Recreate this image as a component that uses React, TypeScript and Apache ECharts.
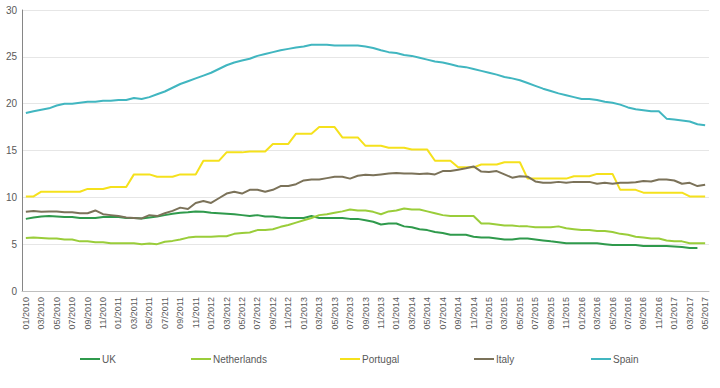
import React, { useEffect, useRef } from "react";
import * as echarts from "echarts";

const categories: string[] = [
  "01/2010","02/2010","03/2010","04/2010","05/2010","06/2010","07/2010","08/2010","09/2010","10/2010","11/2010","12/2010",
  "01/2011","02/2011","03/2011","04/2011","05/2011","06/2011","07/2011","08/2011","09/2011","10/2011","11/2011","12/2011",
  "01/2012","02/2012","03/2012","04/2012","05/2012","06/2012","07/2012","08/2012","09/2012","10/2012","11/2012","12/2012",
  "01/2013","02/2013","03/2013","04/2013","05/2013","06/2013","07/2013","08/2013","09/2013","10/2013","11/2013","12/2013",
  "01/2014","02/2014","03/2014","04/2014","05/2014","06/2014","07/2014","08/2014","09/2014","10/2014","11/2014","12/2014",
  "01/2015","02/2015","03/2015","04/2015","05/2015","06/2015","07/2015","08/2015","09/2015","10/2015","11/2015","12/2015",
  "01/2016","02/2016","03/2016","04/2016","05/2016","06/2016","07/2016","08/2016","09/2016","10/2016","11/2016","12/2016",
  "01/2017","02/2017","03/2017","04/2017","05/2017",
];

const ukValues: (number | null)[] = [
  7.7, 7.85, 7.95, 8.0, 7.95, 7.9, 7.9, 7.8, 7.8, 7.8, 7.9, 7.9,
  7.9, 7.8, 7.8, 7.75, 7.85, 7.95, 8.1, 8.25, 8.35, 8.4, 8.5, 8.45,
  8.35, 8.3, 8.25, 8.2, 8.1, 8.0, 8.1, 7.95, 7.95, 7.85, 7.8, 7.8,
  7.8, 8.0, 7.8, 7.8, 7.8, 7.8, 7.7, 7.7, 7.55, 7.4, 7.1, 7.2,
  7.2, 6.9, 6.8, 6.6, 6.5, 6.3, 6.2, 6.0, 6.0, 6.0, 5.8, 5.7,
  5.7, 5.6, 5.5, 5.5, 5.6, 5.6, 5.5, 5.4, 5.3, 5.2, 5.1, 5.1,
  5.1, 5.1, 5.1, 5.0, 4.9, 4.9, 4.9, 4.9, 4.8, 4.8, 4.8, 4.8,
  4.75, 4.7, 4.6, 4.6, null,
];

const netherlandsValues: number[] = [
  5.65, 5.7, 5.65, 5.6, 5.6, 5.5, 5.5, 5.3, 5.3, 5.2, 5.2, 5.1,
  5.1, 5.1, 5.1, 5.0, 5.07, 5.0, 5.25, 5.35, 5.5, 5.7, 5.8, 5.8,
  5.8, 5.85, 5.85, 6.1, 6.2, 6.25, 6.5, 6.5, 6.6, 6.85, 7.05, 7.3,
  7.55, 7.8, 8.1, 8.2, 8.35, 8.5, 8.7, 8.6, 8.6, 8.45, 8.2, 8.5,
  8.6, 8.8, 8.7, 8.7, 8.5, 8.3, 8.1, 8.0, 8.0, 8.0, 8.0, 7.2,
  7.2, 7.1, 7.0, 7.0, 6.9, 6.9, 6.8, 6.8, 6.8, 6.9, 6.7, 6.6,
  6.5, 6.5, 6.4, 6.4, 6.3, 6.1, 6.0, 5.8, 5.7, 5.6, 5.6, 5.4,
  5.3, 5.3, 5.1, 5.1, 5.1,
];

const portugalValues: number[] = [
  10.1, 10.1, 10.6, 10.6, 10.6, 10.6, 10.6, 10.6, 10.9, 10.9, 10.9, 11.1,
  11.1, 11.1, 12.45, 12.45, 12.45, 12.2, 12.2, 12.2, 12.45, 12.45, 12.45, 13.9,
  13.9, 13.9, 14.8, 14.8, 14.8, 14.9, 14.9, 14.9, 15.7, 15.7, 15.7, 16.8,
  16.8, 16.8, 17.5, 17.5, 17.5, 16.4, 16.4, 16.4, 15.5, 15.5, 15.5, 15.3,
  15.3, 15.3, 15.1, 15.1, 15.1, 13.9, 13.9, 13.9, 13.2, 13.2, 13.2, 13.5,
  13.5, 13.5, 13.75, 13.75, 13.75, 12.0, 12.0, 12.0, 12.0, 12.0, 12.0, 12.25,
  12.25, 12.25, 12.5, 12.5, 12.5, 10.8, 10.8, 10.8, 10.5, 10.5, 10.5, 10.5,
  10.5, 10.5, 10.1, 10.1, 10.1,
];

const italyValues: number[] = [
  8.45, 8.55, 8.45, 8.5, 8.5, 8.4, 8.4, 8.3, 8.3, 8.6, 8.2, 8.1,
  8.0, 7.85, 7.8, 7.75, 8.1, 8.0, 8.3, 8.55, 8.9, 8.75, 9.4, 9.6,
  9.4, 9.9, 10.4, 10.6, 10.4, 10.8, 10.8, 10.6, 10.8, 11.2, 11.2, 11.4,
  11.8, 11.9, 11.9, 12.05, 12.2, 12.2, 12.0, 12.3, 12.4, 12.35, 12.45, 12.55,
  12.6, 12.55, 12.55, 12.5, 12.55, 12.45, 12.8, 12.8, 12.95, 13.1, 13.3, 12.75,
  12.7, 12.8, 12.45, 12.1, 12.25, 12.2, 11.7, 11.55, 11.55, 11.65, 11.55, 11.65,
  11.65, 11.65, 11.45, 11.55, 11.45, 11.55, 11.55, 11.6, 11.75, 11.7, 11.9, 11.9,
  11.8, 11.45, 11.55, 11.2, 11.35,
];

const spainValues: number[] = [
  19.0, 19.2, 19.35, 19.5, 19.8, 20.0, 20.0, 20.1, 20.2, 20.2, 20.3, 20.3,
  20.4, 20.4, 20.6, 20.5, 20.7, 21.0, 21.3, 21.7, 22.1, 22.4, 22.7, 23.0,
  23.3, 23.7, 24.1, 24.4, 24.6, 24.8, 25.1, 25.3, 25.5, 25.7, 25.85, 26.0,
  26.1, 26.3, 26.3, 26.3, 26.2, 26.2, 26.2, 26.2, 26.1, 25.95, 25.7, 25.5,
  25.4, 25.2, 25.1, 24.9, 24.7, 24.5, 24.4, 24.2, 24.0, 23.9, 23.7, 23.5,
  23.3, 23.1, 22.85, 22.7, 22.5, 22.2, 21.9, 21.6, 21.35, 21.1, 20.9, 20.7,
  20.5, 20.5, 20.4, 20.2, 20.1, 19.9, 19.6, 19.4, 19.3, 19.2, 19.2, 18.4,
  18.3, 18.2, 18.1, 17.8, 17.7,
];

const seriesNames = ["UK", "Netherlands", "Portugal", "Italy", "Spain"];
const seriesColors = ["#2f9a4c", "#9acd3a", "#f5e11c", "#7b7259", "#41b6c0"];
const seriesData = [ukValues, netherlandsValues, portugalValues, italyValues, spainValues];
const legendLefts = [80, 191, 340, 474, 591];

export default function App() {
  const ref = useRef<HTMLDivElement>(null);
  useEffect(() => {
    if (!ref.current) return;
    const chart = echarts.init(ref.current, undefined, { renderer: "svg" });
    const font = "Liberation Sans, Arial, sans-serif";
    chart.setOption({
      animation: false,
      textStyle: { fontFamily: font },
      grid: { left: 22, right: 11, top: 10, bottom: 97, containLabel: false },
      legend: seriesNames.map((n, i) => ({
        data: [{ name: n, icon: "rect" }],
        left: legendLefts[i],
        top: 354,
        itemWidth: 20,
        itemHeight: 2,
        itemGap: 0,
        padding: 0,
        textStyle: { fontSize: 10, color: "#595959", fontFamily: font, padding: [0, 0, 0, -3] },
      })),
      xAxis: {
        type: "category",
        data: categories,
        boundaryGap: true,
        axisLine: { show: true, lineStyle: { color: "#bfbfbf", width: 1 } },
        axisTick: { show: false },
        axisLabel: {
          interval: 1,
          rotate: 90,
          fontSize: 9,
          color: "#595959",
          margin: 6,
          fontFamily: font,
        },
        splitLine: { show: false },
      },
      yAxis: {
        type: "value",
        min: 0,
        max: 30,
        interval: 5,
        axisLine: { show: true, lineStyle: { color: "#868686", width: 1 } },
        axisTick: { show: false },
        axisLabel: { fontSize: 10, color: "#595959", margin: 5, fontFamily: font },
        splitLine: { show: true, lineStyle: { color: "#e6e6e6", width: 1 } },
      },
      series: seriesNames.map((n, i) => ({
        name: n,
        type: "line",
        data: seriesData[i],
        symbol: "none",
        smooth: false,
        lineStyle: { color: seriesColors[i], width: 2 },
        itemStyle: { color: seriesColors[i] },
      })),
    });
    return () => chart.dispose();
  }, []);
  return <div ref={ref} style={{ width: 720, height: 388, position: "absolute", left: 0, top: 0, background: "#fff" }} />;
}
